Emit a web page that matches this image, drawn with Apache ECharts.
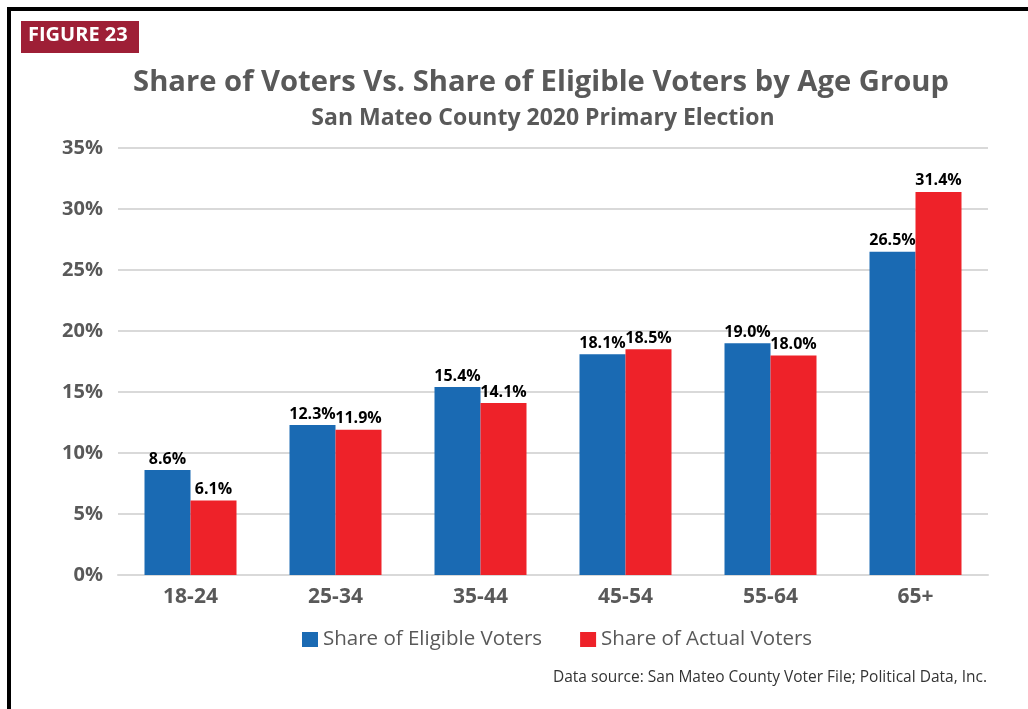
<!DOCTYPE html>
<html>
<head>
<meta charset="utf-8">
<script src="https://cdn.jsdelivr.net/npm/echarts@6/dist/echarts.min.js"></script>
<style>
  html, body { margin: 0; padding: 0; background: #fff; }
  #chart { width: 1028px; height: 709px; }
</style>
</head>
<body>
<div id="chart"></div>
<script>
// Age groups and vote shares (percent)
const ageGroups = ['18-24', '25-34', '35-44', '45-54', '55-64', '65+'];
const eligibleShare = [8.6, 12.3, 15.4, 18.1, 19.0, 26.5];
const actualShare = [6.1, 11.9, 14.1, 18.5, 18.0, 31.4];
const seriesNames = ['Share of Eligible Voters', 'Share of Actual Voters'];

const GRAY = '#595959';
const FONT = '"Open Sans", "Noto Sans", sans-serif';

const chart = echarts.init(document.getElementById('chart'), null, { renderer: 'canvas' });

const barLabel = {
  show: true,
  position: 'top',
  distance: 3,
  color: '#000',
  fontFamily: FONT,
  fontWeight: 'bold',
  fontSize: 16,
  formatter: p => p.value.toFixed(1) + '%'
};

chart.setOption({
  backgroundColor: '#fff',
  animation: false,
  title: [
    {
      text: 'Share of Voters Vs. Share of Eligible Voters by Age Group',
      left: 536, top: 63, textAlign: 'center',
      textStyle: { fontFamily: FONT, fontWeight: 'bold', fontSize: 29.2, color: GRAY }
    },
    {
      text: 'San Mateo County 2020 Primary Election',
      left: 538, top: 102, textAlign: 'center',
      textStyle: { fontFamily: FONT, fontWeight: 'bold', fontSize: 23, color: GRAY }
    }
  ],
  legend: {
    data: seriesNames,
    top: 624,
    left: 297,
    itemWidth: 16,
    itemHeight: 15,
    itemGap: 38,
    icon: 'rect',
    textStyle: { fontFamily: FONT, fontSize: 20.5, color: GRAY }
  },
  grid: { left: 118, right: 40, top: 148, bottom: 134 },
  xAxis: {
    type: 'category',
    data: ageGroups,
    axisLine: { show: true, lineStyle: { color: '#d9d9d9', width: 2 } },
    axisTick: { show: false },
    axisLabel: { fontFamily: FONT, fontWeight: 'bold', fontSize: 21, color: GRAY, margin: 12 }
  },
  yAxis: {
    type: 'value',
    min: 0, max: 35, interval: 5,
    axisLine: { show: false },
    axisTick: { show: false },
    axisLabel: {
      fontFamily: FONT, fontWeight: 'bold', fontSize: 20, color: GRAY, margin: 15,
      formatter: v => v + '%'
    },
    splitLine: { lineStyle: { color: '#d9d9d9', width: 2 } }
  },
  series: [
    {
      name: seriesNames[0], type: 'bar', data: eligibleShare,
      barWidth: 46, barGap: '0%',
      itemStyle: { color: '#1a6ab3' },
      label: barLabel
    },
    {
      name: seriesNames[1], type: 'bar', data: actualShare,
      barWidth: 46,
      itemStyle: { color: '#ee2229' },
      label: barLabel
    }
  ],
  graphic: [
    // page frame (left and top edges)
    { type: 'line', shape: { x1: 9, y1: 9, x2: 9, y2: 709 }, style: { stroke: '#000', lineWidth: 4 } },
    { type: 'line', shape: { x1: 7, y1: 9, x2: 1028, y2: 9 }, style: { stroke: '#000', lineWidth: 4 } },
    // figure badge
    { type: 'rect', shape: { x: 21, y: 21, width: 118, height: 32 }, style: { fill: '#9e1f36' } },
    {
      type: 'text', left: 28, top: 25,
      style: { text: 'FIGURE 23', fill: '#fff', font: 'bold 20px ' + FONT }
    },
    // source note
    {
      type: 'text', right: 41, top: 670,
      style: { text: 'Data source: San Mateo County Voter File; Political Data, Inc.', fill: '#333', font: '15.5px ' + FONT }
    }
  ]
});
</script>
</body>
</html>
